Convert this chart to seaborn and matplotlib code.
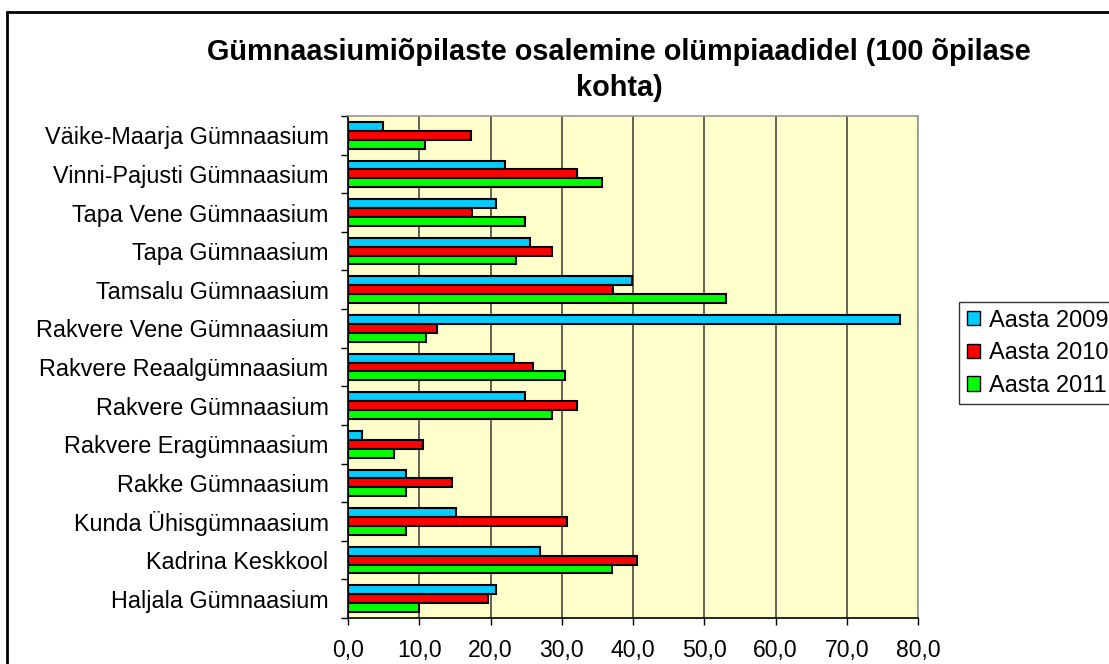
import numpy as np
import pandas as pd
import matplotlib
matplotlib.use("Agg")
import matplotlib.pyplot as plt
import seaborn as sns
from matplotlib.patches import Rectangle, Patch
from matplotlib.ticker import FixedLocator, FuncFormatter

schools = [
    "Väike-Maarja Gümnaasium",
    "Vinni-Pajusti Gümnaasium",
    "Tapa Vene Gümnaasium",
    "Tapa Gümnaasium",
    "Tamsalu Gümnaasium",
    "Rakvere Vene Gümnaasium",
    "Rakvere Reaalgümnaasium",
    "Rakvere Gümnaasium",
    "Rakvere Eragümnaasium",
    "Rakke Gümnaasium",
    "Kunda Ühisgümnaasium",
    "Kadrina Keskkool",
    "Haljala Gümnaasium",
]
years = ["Aasta 2009", "Aasta 2010", "Aasta 2011"]
v2009 = [4.9, 22.0, 20.8, 25.6, 39.8, 77.5, 23.3, 24.8, 2.0, 8.2, 15.1, 26.9, 20.8]
v2010 = [17.2, 32.1, 17.4, 28.7, 37.2, 12.5, 25.9, 32.1, 10.5, 14.6, 30.8, 40.6, 19.7]
v2011 = [10.8, 35.7, 24.9, 23.6, 53.1, 11.0, 30.5, 28.7, 6.4, 8.2, 8.2, 37.0, 10.0]
colors = ["#00CCFF", "#FF0000", "#00FF00"]
title = "Gümnaasiumiõpilaste osalemine olümpiaadidel (100 õpilase\nkohta)"

rows = []
for yr, vals in zip(years, [v2009, v2010, v2011]):
    for s, v in zip(schools, vals):
        rows.append({"Kool": s, "Aasta": yr, "Väärtus": v})
df = pd.DataFrame(rows)

sns.set_style("white")
plt.rcParams["font.family"] = ["Liberation Sans", "DejaVu Sans"]
for k in ["text.color", "axes.labelcolor", "xtick.color", "ytick.color"]:
    plt.rcParams[k] = "black"

W, H = 1109, 664
fig = plt.figure(figsize=(W / 100, H / 100), dpi=100)
ax = fig.add_axes([348 / W, 1 - 618 / H, (918 - 348) / W, (618 - 116) / H])
ax.set_facecolor("#FFFFCC")

sns.barplot(data=df, y="Kool", x="Väärtus", hue="Aasta", order=schools,
            hue_order=years, palette=colors, saturation=1, width=0.69,
            edgecolor="black", linewidth=1.5, orient="h", legend=False, ax=ax,
            zorder=3)

ax.set_xlim(0, 80)
ax.set_ylim(len(schools) - 0.5, -0.5)
ax.set_xticks(np.arange(0, 81, 10))
ax.xaxis.set_major_formatter(FuncFormatter(lambda v, p: f"{v:.1f}".replace(".", ",")))
ax.grid(axis="x", color="#55554a", linewidth=1.3, zorder=0)
ax.set_axisbelow(True)
ax.set_xlabel("")
ax.set_ylabel("")

ax.set_yticks(range(len(schools)))
ax.set_yticklabels(schools)
ax.yaxis.set_minor_locator(FixedLocator(np.arange(-0.5, len(schools), 1.0)))
ax.tick_params(axis="y", which="major", length=0, pad=14, labelsize=16.8, labelcolor="black")
ax.tick_params(axis="y", which="minor", length=5, width=1, color="black", direction="out", left=True)
ax.tick_params(axis="x", which="major", length=5, width=1, color="black", direction="out",
               bottom=True, pad=10, labelsize=16.6, labelcolor="black")

for side in ["left", "bottom"]:
    ax.spines[side].set_color("black")
    ax.spines[side].set_linewidth(1.2)
for side in ["top", "right"]:
    ax.spines[side].set_visible(True)
    ax.spines[side].set_color("#999999")
    ax.spines[side].set_linewidth(1.2)

fig.text(619 / W, 1 - 70 / H, title, ha="center", va="center", fontsize=20.8,
         fontweight="bold", multialignment="center", linespacing=1.33, color="black")

handles = [Patch(facecolor=c, edgecolor="black", linewidth=1) for c in colors]
leg = fig.legend(handles, years, loc="upper left", bbox_to_anchor=(959 / W, 1 - 302 / H),
                 bbox_transform=fig.transFigure, fontsize=17, frameon=True, fancybox=False,
                 edgecolor="black", handlelength=0.55, handleheight=0.55,
                 handletextpad=0.4, labelspacing=0.45, borderpad=0.32, borderaxespad=0)
leg.get_frame().set_linewidth(1)
for t in leg.get_texts():
    t.set_color("black")

fig.patches.append(Rectangle((7 / W, -0.1), 1.2, 1 - 12 / H + 0.1, transform=fig.transFigure,
                             fill=False, edgecolor="black", linewidth=2))

fig.savefig("out.png", dpi=100)
